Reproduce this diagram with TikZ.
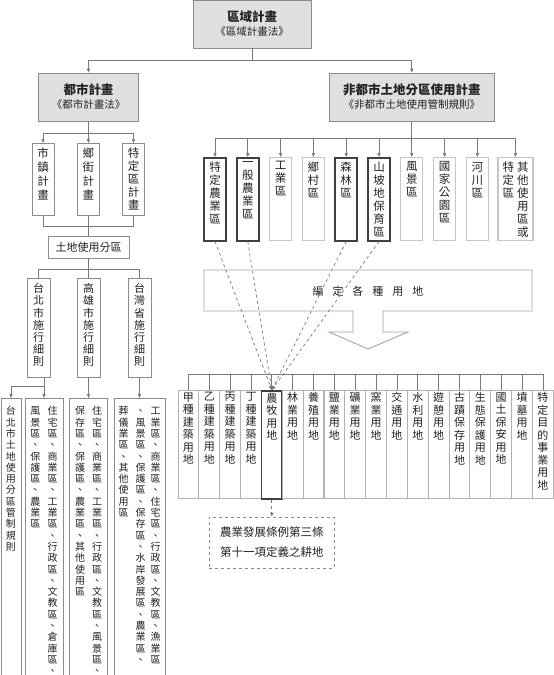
\documentclass[tikz,border=0pt]{standalone}
\usepackage{fontspec}
\setmainfont{Noto Sans CJK TC}
\usetikzlibrary{arrows.meta}

\definecolor{boxgray}{HTML}{8C8C8C}
\definecolor{fillgray}{HTML}{E0E0E0}
\definecolor{linegray}{HTML}{7A7A7A}
\definecolor{textgray}{HTML}{222222}

% vertical text, one character per line
\newcommand\vt[1]{\vtfirst#1\relax}
\def\vtfirst#1{#1\vtnext}
\def\vtnext#1{\ifx#1\relax\else\\#1\expandafter\vtnext\fi}
\newcommand\vcol[1]{\parbox[t]{1em}{\centering\vt{#1}}}
\newcommand\colbox[4][3pt]{\parbox[c][#3][t]{#2}{\centering\vspace{#1}#4}}
\newcommand\plantitle[2]{{\fontsize{12.5}{15}\selectfont\bfseries #1}\\[2pt]{\fontsize{10.5}{12}\selectfont #2}}

\tikzset{
    plan-box/.style = {draw=boxgray, fill=fillgray, line width=0.8pt, rectangle, align=center, inner sep=0pt, text=textgray},
    col-box/.style = {draw=boxgray, fill=white, line width=0.9pt, rectangle, inner sep=0pt, anchor=north, text=textgray, font=\fontsize{11.5}{13}\selectfont},
    strong-box/.style = {col-box, draw=black!75, line width=1.6pt},
    light-box/.style = {col-box, draw=gray!45, line width=1.2pt},
    rule-box/.style = {col-box, font=\fontsize{10}{11.3}\selectfont},
    use-box/.style = {col-box, draw=gray!60, font=\fontsize{11}{12.5}\selectfont},
    note-box/.style = {draw=boxgray, dashed, line width=0.7pt, rectangle, align=center, text=textgray, minimum width=125pt, minimum height=51pt, font=\fontsize{11.5}{20}\selectfont},
    conn/.style = {draw=linegray, line width=0.7pt},
    conn-arrow/.style = {conn, -{Triangle[length=4pt,width=3.2pt]}},
    dash-conn/.style = {conn, dashed, -{Triangle[length=4pt,width=3.2pt]}},
}

\begin{document}
\begin{tikzpicture}[x=1pt, y=-1pt]
\clip (0,0) rectangle (554,675);
\fill[white] (0,0) rectangle (554,675);

% planning levels
\node[plan-box, minimum width=118pt, minimum height=48pt] (region) at (252,24) {\plantitle{區域計畫}{《區域計畫法》}};
\node[plan-box, minimum width=100pt, minimum height=48pt] (urban) at (88.5,97) {\plantitle{都市計畫}{《都市計畫法》}};
\node[plan-box, minimum width=165pt, minimum height=48pt] (rural) at (411.8,97) {\plantitle{非都市土地分區使用計畫}{《非都市土地使用管制規則》}};

\draw[conn] (region.south) -- ++(0,12) coordinate (rbus);
\draw[conn-arrow] (rbus) -| (urban.north);
\draw[conn-arrow] (rbus) -| (rural.north);

% urban side
\node[col-box, font=\fontsize{11.5}{14}\selectfont] (town) at (43,143) {\colbox[4pt]{22pt}{72pt}{\vcol{市鎮計畫}}};
\node[col-box, font=\fontsize{11.5}{14}\selectfont] (village) at (88.5,143) {\colbox[4pt]{22pt}{72pt}{\vcol{鄉街計畫}}};
\node[col-box] (special) at (133.5,143) {\colbox[4pt]{22pt}{72pt}{\vcol{特定區計畫}}};

\draw[conn] (urban.south) -- ++(0,12) coordinate (ubus);
\draw[conn-arrow] (ubus) -| (town.north);
\draw[conn-arrow] (ubus) -- (village.north);
\draw[conn-arrow] (ubus) -| (special.north);

\node[plan-box, fill=white, minimum width=81pt, minimum height=22pt, font=\fontsize{11}{13}\selectfont] (zoning) at (88.5,247) {土地使用分區};
\draw[conn] (town.south) -- ++(0,10) -| (special.south);
\draw[conn] (village.south) -- (zoning.north);

\node[col-box, font=\fontsize{11}{12.2}\selectfont] (taipei) at (38.5,278) {\colbox[5pt]{23pt}{99pt}{\vcol{台北市施行細則}}};
\node[col-box, font=\fontsize{11}{12.2}\selectfont] (kaohsiung) at (88.5,278) {\colbox[5pt]{23pt}{99pt}{\vcol{高雄市施行細則}}};
\node[col-box, font=\fontsize{11}{12.2}\selectfont] (taiwan) at (139.5,278) {\colbox[5pt]{23pt}{99pt}{\vcol{台灣省施行細則}}};

\draw[conn] (zoning.south) -- ++(0,11) coordinate (zbus);
\draw[conn] (zbus) -| (taipei.north);
\draw[conn] (zbus) -| (taiwan.north);
\draw[conn] (zoning.south) -- (kaohsiung.north);

\node[rule-box] (tpA) at (11,398) {\colbox[8pt]{20pt}{292pt}{\vcol{台北市土地使用分區管制規則}}};
\node[rule-box] (tpB) at (44,398) {\colbox[8pt]{38pt}{292pt}{\vcol{風景區、保護區、農業區}\hspace{7pt}\vcol{住宅區、商業區、工業區、行政區、文教區、倉庫區、}}};
\node[rule-box] (ksC) at (88.5,398) {\colbox[8pt]{38pt}{292pt}{\vcol{保存區、保護區、農業區、其他使用區}\hspace{7pt}\vcol{住宅區、商業區、工業區、行政區、文教區、風景區、}}};
\node[rule-box] (twD) at (139.5,398) {\colbox[8pt]{51pt}{292pt}{\vcol{葬儀業區、其他使用區}\hspace{7pt}\vcol{、風景區、保護區、保存區、水岸發展區、農業區、}\hspace{5pt}\vcol{工業區、商業區、住宅區、行政區、文教區、漁業區}}};

\draw[conn-arrow] (taipei.south -| tpB.north) -- (tpB.north);
\draw[conn-arrow] (taipei.south -| tpB.north) -- ++(0,8) -| (tpA.north);
\draw[conn-arrow] (kaohsiung.south) -- (ksC.north);
\draw[conn-arrow] (taiwan.south) -- (twD.north);

% non-urban zones
\node[strong-box] (za) at (215,157) {\colbox[4pt]{22pt}{83pt}{\vcol{特定農業區}}};
\node[strong-box] (zb) at (247.8,157) {\colbox[4pt]{22pt}{83pt}{\vcol{一般農業區}}};
\node[light-box] (zc) at (280.6,157) {\colbox[4pt]{22pt}{83pt}{\vcol{工業區}}};
\node[light-box] (zd) at (313.4,157) {\colbox[4pt]{22pt}{83pt}{\vcol{鄉村區}}};
\node[strong-box] (ze) at (346.2,157) {\colbox[4pt]{22pt}{83pt}{\vcol{森林區}}};
\node[strong-box] (zf) at (379,157) {\colbox[4pt]{22pt}{83pt}{\vcol{山坡地保育區}}};
\node[light-box] (zg) at (411.8,157) {\colbox[4pt]{22pt}{83pt}{\vcol{風景區}}};
\node[light-box] (zh) at (444.6,157) {\colbox[4pt]{22pt}{83pt}{\vcol{國家公園區}}};
\node[light-box] (zi) at (477.4,157) {\colbox[4pt]{22pt}{83pt}{\vcol{河川區}}};
\node[light-box] (zj) at (515.5,157) {\colbox[4pt]{35pt}{83pt}{\vcol{特定區}\hspace{3pt}\vcol{其他使用區或}}};

\draw[conn] (rural.south) -- ++(0,17) coordinate (nbus);
\draw[conn-arrow] (nbus) -| (za.north);
\draw[conn-arrow] (nbus) -| (zb.north);
\draw[conn-arrow] (nbus) -| (zc.north);
\draw[conn-arrow] (nbus) -| (zd.north);
\draw[conn-arrow] (nbus) -| (ze.north);
\draw[conn-arrow] (nbus) -| (zf.north);
\draw[conn-arrow] (nbus) -- (zg.north);
\draw[conn-arrow] (nbus) -| (zh.north);
\draw[conn-arrow] (nbus) -| (zi.north);
\draw[conn-arrow] (nbus) -| (zj.north);

% block arrow
\draw[draw=gray!70, fill=white, line width=0.9pt] (353,311) -- (204,311) -- (204,270) -- (532,270) -- (532,311) -- (383,311) -- (383,332) -- (408,332) -- (368,349) -- (329,332) -- (353,332) -- cycle;
\node[text=textgray, font=\fontsize{11}{13}\selectfont] (assign) at (368,291) {編\hspace{9pt}定\hspace{9pt}各\hspace{9pt}種\hspace{9pt}用\hspace{9pt}地};

% land use types
\node[use-box] (use1) at (188.4,390) {\colbox[2pt]{20.85pt}{108pt}{\vcol{甲種建築用地}}};
\node[use-box] (use2) at (209.3,390) {\colbox[2pt]{20.85pt}{108pt}{\vcol{乙種建築用地}}};
\node[use-box] (use3) at (230.1,390) {\colbox[2pt]{20.85pt}{108pt}{\vcol{丙種建築用地}}};
\node[use-box] (use4) at (251.0,390) {\colbox[2pt]{20.85pt}{108pt}{\vcol{丁種建築用地}}};
\node[use-box, draw=black!75, line width=1.6pt] (use5) at (271.8,390) {\colbox[2pt]{20.85pt}{108pt}{\vcol{農牧用地}}};
\node[use-box] (use6) at (292.7,390) {\colbox[2pt]{20.85pt}{108pt}{\vcol{林業用地}}};
\node[use-box] (use7) at (313.5,390) {\colbox[2pt]{20.85pt}{108pt}{\vcol{養殖用地}}};
\node[use-box] (use8) at (334.4,390) {\colbox[2pt]{20.85pt}{108pt}{\vcol{鹽業用地}}};
\node[use-box] (use9) at (355.2,390) {\colbox[2pt]{20.85pt}{108pt}{\vcol{礦業用地}}};
\node[use-box] (use10) at (376.1,390) {\colbox[2pt]{20.85pt}{108pt}{\vcol{窯業用地}}};
\node[use-box] (use11) at (396.9,390) {\colbox[2pt]{20.85pt}{108pt}{\vcol{交通用地}}};
\node[use-box] (use12) at (417.8,390) {\colbox[2pt]{20.85pt}{108pt}{\vcol{水利用地}}};
\node[use-box] (use13) at (438.6,390) {\colbox[2pt]{20.85pt}{108pt}{\vcol{遊憩用地}}};
\node[use-box] (use14) at (459.5,390) {\colbox[2pt]{20.85pt}{108pt}{\vcol{古蹟保存用地}}};
\node[use-box] (use15) at (480.3,390) {\colbox[2pt]{20.85pt}{108pt}{\vcol{生態保護用地}}};
\node[use-box] (use16) at (501.2,390) {\colbox[2pt]{20.85pt}{108pt}{\vcol{國土保安用地}}};
\node[use-box] (use17) at (522.0,390) {\colbox[2pt]{20.85pt}{108pt}{\vcol{墳墓用地}}};
\node[use-box] (use18) at (542.9,390) {\colbox[2pt]{20.85pt}{108pt}{\vcol{特定目的事業用地}}};

\draw[conn] (use1.north) -- ++(0,-16) -| (use18.north);
\draw[conn] (use2.north) -- ++(0,-16) (use3.north) -- ++(0,-16) (use4.north) -- ++(0,-16)
    (use5.north) -- ++(0,-16) (use6.north) -- ++(0,-16) (use7.north) -- ++(0,-16)
    (use8.north) -- ++(0,-16) (use9.north) -- ++(0,-16) (use10.north) -- ++(0,-16)
    (use11.north) -- ++(0,-16) (use12.north) -- ++(0,-16) (use13.north) -- ++(0,-16)
    (use14.north) -- ++(0,-16) (use15.north) -- ++(0,-16) (use16.north) -- ++(0,-16)
    (use17.north) -- ++(0,-16);

% farmland links
\draw[dash-conn] (za.south) -- (use5.north);
\draw[dash-conn] (zb.south) -- (use5.north);
\draw[dash-conn] (ze.south) -- (use5.north);
\draw[dash-conn] (zf.south) -- (use5.north);

\node[note-box] (note) at (271.8,542.5) {農業發展條例第三條\\第十一項定義之耕地};
\draw[dash-conn] (use5.south) -- (note.north);
\end{tikzpicture}
\end{document}
